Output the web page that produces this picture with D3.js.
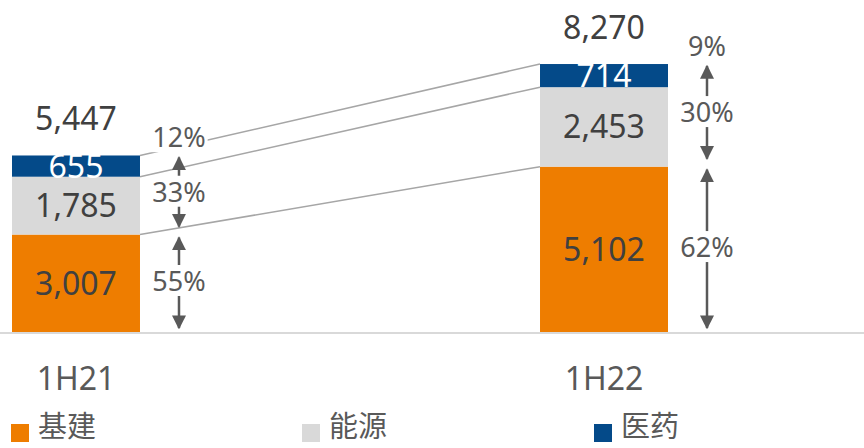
<!DOCTYPE html>
<html>
<head>
<meta charset="utf-8">
<script src="https://cdn.jsdelivr.net/npm/d3@7"></script>
<style>
  html, body { margin: 0; padding: 0; background: #fff; }
  svg { display: block; font-family: "Noto Sans", "Open Sans", "Noto Sans CJK SC", sans-serif; }
</style>
</head>
<body>
<script>
// chart values
const periods = ["1H21", "1H22"];
const seriesNames = ["基建", "能源", "医药"];
const infra = [3007, 5102];
const energy = [1785, 2453];
const pharma = [655, 714];
const totals = [5447, 8270];
const infraShare = ["55%", "62%"];
const energyShare = ["33%", "30%"];
const pharmaShare = ["12%", "9%"];

const width = 864, height = 448;
const baseY = 332;
const colors = ["#ee7d00", "#d9d9d9", "#044a89"];
const labelColors = ["#404040", "#404040", "#ffffff"];

const rows = periods.map((p, i) => ({period: p, s0: infra[i], s1: energy[i], s2: pharma[i]}));
const stack = d3.stack().keys(["s0", "s1", "s2"])(rows);

const x = d3.scaleBand().domain(periods).range([12, 668]).paddingInner(0.7576).paddingOuter(0);
const y = d3.scaleLinear().domain([0, d3.max(totals)]).range([baseY, 64]);
const bw = x.bandwidth();

const svg = d3.select("body").append("svg")
  .attr("width", width).attr("height", height);

// axis line
svg.append("line")
  .attr("x1", 0).attr("x2", width)
  .attr("y1", baseY + 1).attr("y2", baseY + 1)
  .attr("stroke", "#d9d9d9").attr("stroke-width", 2);

// connecting lines between stacks
stack.forEach(layer => {
  svg.append("line")
    .attr("x1", x(periods[0]) + bw).attr("y1", y(layer[0][1]))
    .attr("x2", x(periods[1])).attr("y2", y(layer[1][1]))
    .attr("stroke", "#a6a6a6").attr("stroke-width", 1.5);
});

// bars
stack.forEach((layer, k) => {
  svg.append("g").selectAll("rect")
    .data(layer)
    .join("rect")
    .attr("x", d => x(d.data.period))
    .attr("y", d => y(d[1]))
    .attr("width", bw)
    .attr("height", d => y(d[0]) - y(d[1]))
    .attr("fill", colors[k]);
});

// segment labels
stack.forEach((layer, k) => {
  svg.append("g").selectAll("text")
    .data(layer)
    .join("text")
    .attr("x", d => x(d.data.period) + bw / 2)
    .attr("y", d => (y(d[0]) + y(d[1])) / 2)
    .attr("dy", "0.36em")
    .attr("text-anchor", "middle")
    .attr("font-size", 32)
    .attr("fill", labelColors[k])
    .text(d => d3.format(",")(d[1] - d[0]));
});

// totals
svg.append("g").selectAll("text")
  .data(periods)
  .join("text")
  .attr("x", d => x(d) + bw / 2)
  .attr("y", (d, i) => y(totals[i]) - 37)
  .attr("dy", "0.36em")
  .attr("text-anchor", "middle")
  .attr("font-size", 32)
  .attr("fill", "#404040")
  .text((d, i) => d3.format(",")(totals[i]));

// arrows
const defs = svg.append("defs");
["start", "end"].forEach(k => {
  defs.append("marker")
    .attr("id", "arr-" + k)
    .attr("viewBox", "0 0 10 10")
    .attr("refX", k === "end" ? 9 : 1).attr("refY", 5)
    .attr("markerWidth", 5.6).attr("markerHeight", 5.6)
    .attr("markerUnits", "strokeWidth")
    .attr("orient", "auto")
    .append("path")
    .attr("d", k === "end" ? "M0,0L10,5L0,10Z" : "M10,0L0,5L10,10Z")
    .attr("fill", "#595959");
});

const pctLabel = (cx, cy, txt) => {
  const g = svg.append("g");
  const bg = g.append("rect").attr("fill", "#fff");
  const t = g.append("text")
    .attr("x", cx).attr("y", cy)
    .attr("dy", "0.36em")
    .attr("text-anchor", "middle")
    .attr("font-size", 27)
    .attr("fill", "#595959")
    .text(txt);
  const b = t.node().getBBox();
  bg.attr("x", b.x - 2).attr("y", b.y + 3).attr("width", b.width + 4).attr("height", b.height - 6);
};

periods.forEach((p, i) => {
  const ax = x(p) + bw + 39;
  const yTop = y(stack[2][i][1]);
  const yMid = y(stack[0][i][1]);
  const yBot = y(0);
  const arrow = (y1, y2) => svg.append("line")
    .attr("x1", ax).attr("x2", ax)
    .attr("y1", y1).attr("y2", y2)
    .attr("stroke", "#595959").attr("stroke-width", 2.5)
    .attr("marker-start", "url(#arr-start)")
    .attr("marker-end", "url(#arr-end)");
  arrow(yTop + 2, yMid - 8);
  arrow(yMid + 3, yBot - 4);
  pctLabel(ax, (yTop + yMid) / 2 - 3, energyShare[i]);
  pctLabel(ax, (yMid + yBot) / 2 - 2, infraShare[i]);
  pctLabel(ax, yTop - 18, pharmaShare[i]);
});

// category labels
svg.append("g").selectAll("text")
  .data(periods)
  .join("text")
  .attr("x", d => x(d) + bw / 2)
  .attr("y", 390)
  .attr("text-anchor", "middle")
  .attr("font-size", 32)
  .attr("fill", "#595959")
  .text(d => d);

// legend
const legendX = [11, 302, 594];
const leg = svg.append("g").selectAll("g")
  .data(seriesNames)
  .join("g")
  .attr("transform", (d, i) => `translate(${legendX[i]},424)`);
leg.append("rect")
  .attr("width", 18).attr("height", 18)
  .attr("fill", (d, i) => colors[i]);
leg.append("text")
  .attr("x", 27).attr("y", 13)
  .attr("font-size", 29)
  .attr("font-family", "'Noto Sans CJK SC', sans-serif")
  .attr("fill", "#595959")
  .text(d => d);
</script>
</body>
</html>
